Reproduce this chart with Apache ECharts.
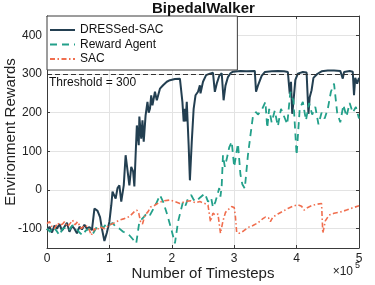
<!DOCTYPE html>
<html>
<head>
<meta charset="utf-8">
<script src="https://cdn.jsdelivr.net/npm/echarts@6/dist/echarts.min.js"></script>
<style>
html,body{margin:0;padding:0;background:#fff;}
#c{width:375px;height:285px;}
</style>
</head>
<body>
<div id="c"></div>
<script>
// Timesteps in units of 10^5
const dressT = [0.00,0.04,0.08,0.12,0.16,0.20,0.24,0.28,0.32,0.36,0.40,0.44,0.48,0.52,0.56,0.60,0.64,0.68,0.72,0.76,0.79,0.81,0.85,0.88,0.92,0.96,1.00,1.03,1.05,1.08,1.10,1.13,1.16,1.19,1.23,1.26,1.29,1.32,1.35,1.38,1.40,1.42,1.44,1.47,1.48,1.51,1.53,1.55,1.58,1.61,1.63,1.65,1.67,1.69,1.73,1.76,1.81,1.86,1.92,1.97,2.05,2.13,2.16,2.17,2.19,2.21,2.22,2.24,2.27,2.29,2.32,2.35,2.38,2.42,2.45,2.46,2.50,2.55,2.61,2.66,2.69,2.72,2.76,2.80,2.83,2.86,2.90,2.94,2.98,3.10,3.20,3.33,3.35,3.38,3.44,3.49,3.60,3.70,3.80,3.86,3.89,3.91,3.93,3.95,3.98,4.02,4.10,4.16,4.19,4.21,4.24,4.27,4.33,4.40,4.50,4.60,4.70,4.74,4.76,4.85,4.90,4.92,4.94,4.97,5.00];
const dressR = [-104,-95,-110,-92,-100,-88,-105,-95,-85,-108,-93,-100,-112,-95,-102,-90,-100,-96,-104,-48,-45,-54,-70,-100,-132,-110,-82,-40,-4,-15,-22,5,12,-30,12,90,94,12,60,48,9,90,167,116,190,133,180,125,193,228,200,210,245,219,254,232,262,271,280,284,287,288,290,228,177,210,177,228,116,25,125,210,245,254,271,250,280,297,301,303,254,275,295,302,232,270,292,302,306,308,307,308,254,270,295,305,307,308,307,305,249,280,197,230,285,301,305,304,197,240,258,290,300,307,309,309,308,288,305,308,306,245,290,275,290];

const rewardT = [0.00,0.05,0.10,0.15,0.20,0.25,0.30,0.35,0.41,0.47,0.52,0.57,0.62,0.68,0.74,0.80,0.84,0.90,0.95,1.00,1.05,1.10,1.16,1.22,1.28,1.32,1.38,1.43,1.48,1.55,1.60,1.65,1.70,1.75,1.81,1.86,1.92,1.99,2.05,2.10,2.18,2.22,2.26,2.31,2.35,2.39,2.45,2.53,2.58,2.63,2.66,2.70,2.73,2.76,2.78,2.80,2.82,2.85,2.88,2.92,2.96,3.00,3.03,3.06,3.10,3.13,3.17,3.22,3.26,3.30,3.35,3.38,3.45,3.50,3.53,3.56,3.60,3.65,3.70,3.75,3.80,3.85,3.90,3.95,4.00,4.05,4.10,4.15,4.20,4.25,4.30,4.35,4.40,4.45,4.50,4.55,4.60,4.65,4.70,4.75,4.80,4.85,4.90,4.95,5.00];
const rewardR = [-100,-108,-95,-105,-117,-100,-98,-105,-91,-100,-110,-117,-105,-100,-112,-95,-91,-98,-88,-91,-85,-95,-100,-108,-112,-117,-128,-138,-82,-70,-60,-65,-50,-35,-13,-30,-60,-100,-138,-82,-30,-40,-22,-13,-25,-30,-20,-9,-30,-20,-45,-30,-13,5,-17,12,90,60,80,110,125,60,90,120,40,15,4,90,141,190,202,195,210,228,160,210,175,205,165,210,190,170,254,230,90,210,228,180,225,195,215,170,200,185,210,254,275,200,175,220,190,225,200,215,185];

const sacT = [0.00,0.04,0.08,0.12,0.17,0.20,0.25,0.28,0.33,0.36,0.41,0.45,0.49,0.55,0.60,0.65,0.68,0.71,0.76,0.80,0.84,0.92,1.00,1.08,1.16,1.24,1.32,1.40,1.44,1.47,1.50,1.53,1.57,1.62,1.66,1.72,1.80,1.88,1.97,2.05,2.13,2.21,2.30,2.38,2.45,2.53,2.58,2.62,2.66,2.70,2.74,2.78,2.82,2.86,2.91,2.96,3.00,3.02,3.04,3.08,3.15,3.22,3.30,3.38,3.46,3.50,3.55,3.58,3.62,3.70,3.78,3.86,3.94,4.02,4.08,4.12,4.18,4.25,4.32,4.40,4.42,4.46,4.52,4.60,4.70,4.80,4.90,5.00];
const sacR = [-87,-82,-95,-100,-85,-91,-88,-82,-95,-100,-78,-90,-82,-100,-92,-95,-104,-117,-100,-105,-95,-100,-91,-85,-78,-74,-69,-56,-52,-60,-82,-88,-65,-56,-44,-40,-32,-28,-26,-30,-35,-30,-28,-33,-30,-35,-39,-82,-60,-65,-62,-112,-80,-58,-50,-43,-45,-70,-110,-112,-106,-97,-92,-85,-74,-70,-72,-82,-70,-62,-55,-48,-42,-38,-42,-52,-45,-40,-37,-35,-112,-80,-65,-60,-57,-52,-46,-41];

const xTicks = [0,1,2,3,4,5];
const yTicks = [-100,0,100,200,300,400];
const threshold = 300;

const zip = (a,b) => a.map((v,i)=>[v,b[i]]);
const FONT = 'Liberation Sans, Arial, Helvetica, sans-serif';
const chart = echarts.init(document.getElementById('c'), null, {renderer:'canvas'});

const axisCommon = {
  axisLine:{show:true,onZero:false,lineStyle:{color:'#3a3a3a',width:1}},
  axisTick:{show:true,inside:true,length:3,lineStyle:{color:'#3a3a3a'}}
};

chart.setOption({
  animation:false,
  backgroundColor:'#fff',
  textStyle:{fontFamily:FONT},
  title:{
    text:'BipedalWalker', left:147, top:-4,
    textStyle:{fontSize:15,fontWeight:'bold',color:'#111',fontFamily:FONT}
  },
  grid:{left:47,right:16,top:16,bottom:37,containLabel:false,outerBoundsMode:'none'},
  legend:{
    orient:'vertical', left:47, top:16,
    padding:[8,74,5,2], itemGap:2.5, itemWidth:25, itemHeight:12,
    backgroundColor:'#fff', borderColor:'#3a3a3a', borderWidth:1, borderRadius:0,
    itemStyle:{opacity:0},
    textStyle:{fontSize:12,color:'#111',fontFamily:FONT},
    data:['DRESSed-SAC','Reward Agent','SAC']
  },
  xAxis:[{
    type:'value', min:0, max:5, interval:1, position:'bottom',
    ...axisCommon,
    axisLabel:{color:'#222',fontSize:12,margin:5,fontFamily:FONT,formatter:v=>xTicks.includes(v)?String(v):''},
    splitLine:{show:true,lineStyle:{color:'#e3e3e3',width:1}},
    name:'Number of Timesteps', nameLocation:'middle', nameGap:18, nameMoveOverlap:false,
    nameTextStyle:{fontSize:15,color:'#222',fontFamily:FONT}
  },{
    type:'value', min:0, max:5, interval:1, position:'top',
    ...axisCommon, axisLabel:{show:false}, splitLine:{show:false}
  }],
  yAxis:[{
    type:'value', min:-150, max:450, splitNumber:6, position:'left',
    ...axisCommon,
    axisLabel:{color:'#222',fontSize:12,margin:5,fontFamily:FONT,showMinLabel:false,showMaxLabel:false,
      formatter:v=>yTicks.includes(v)?String(v):''},
    splitLine:{show:true,lineStyle:{color:'#e3e3e3',width:1}},
    name:'Environment Rewards', nameLocation:'middle', nameGap:29, nameMoveOverlap:false,
    nameTextStyle:{fontSize:15,color:'#222',fontFamily:FONT}
  },{
    type:'value', min:-150, max:450, splitNumber:6, position:'right',
    ...axisCommon, axisLabel:{show:false}, splitLine:{show:false}
  }],
  graphic:[
    {type:'text', right:22, top:266, style:{text:'×10', fontSize:12, fill:'#222', fontFamily:FONT}},
    {type:'text', right:15, top:261, style:{text:'5', fontSize:9, fill:'#222', fontFamily:FONT}}
  ],
  series:[
    {
      name:'DRESSed-SAC', type:'line', data:zip(dressT,dressR), symbol:'none',
      lineStyle:{color:'#233f51',width:2}, itemStyle:{color:'#233f51'},
      markLine:{
        silent:true, symbol:['none','none'],
        lineStyle:{color:'#333',type:[5,3],width:1},
        label:{show:true,position:'insideStartBottom',formatter:'Threshold = '+threshold,
          color:'#111',fontSize:12,fontFamily:FONT,distance:[2,3]},
        data:[{yAxis:threshold}]
      }
    },
    {
      name:'Reward Agent', type:'line', data:zip(rewardT,rewardR), symbol:'none',
      lineStyle:{color:'#23a08a',width:1.8,type:[7,5]}, itemStyle:{color:'#23a08a'}
    },
    {
      name:'SAC', type:'line', data:zip(sacT,sacR), symbol:'none',
      lineStyle:{color:'#f06e4e',width:1.6,type:[5,2.5,1.5,2.5]}, itemStyle:{color:'#f06e4e'}
    }
  ]
});
</script>
</body>
</html>
